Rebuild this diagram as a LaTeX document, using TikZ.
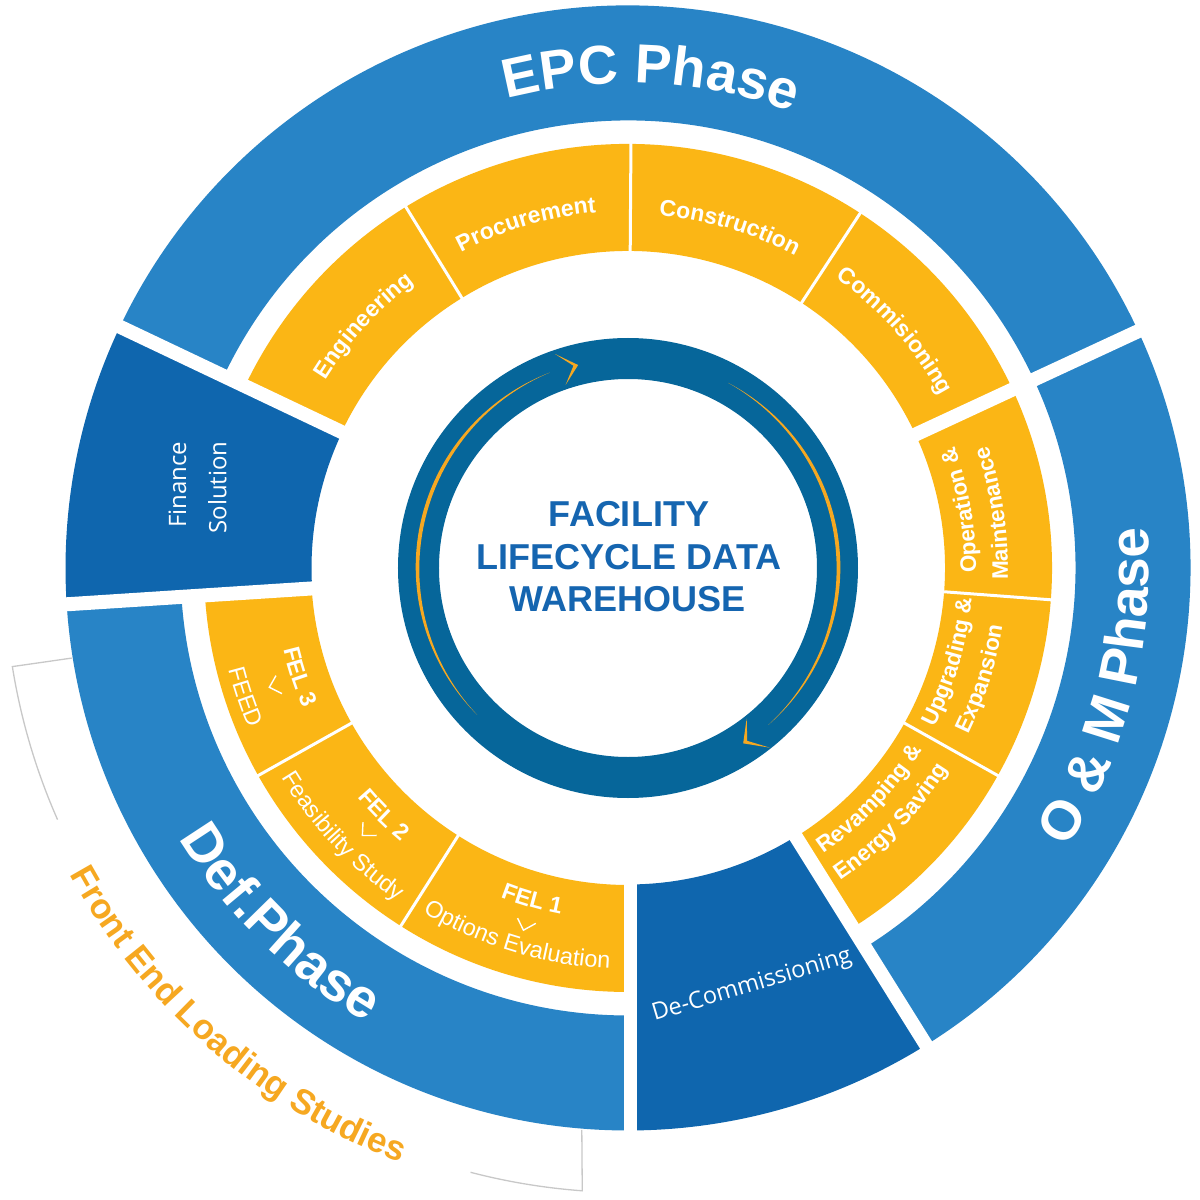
\documentclass[tikz,border=0pt]{standalone}
\usepackage{fontspec}
\setmainfont{Liberation Sans}
\newfontfamily\osans{Open Sans}
\usetikzlibrary{decorations.text}
\definecolor{lblue}{HTML}{2884C6}
\definecolor{dblue}{HTML}{0F66AE}
\definecolor{ylw}{HTML}{FBB615}
\definecolor{ringc}{HTML}{06669A}
\definecolor{ctext}{HTML}{1565B0}
\definecolor{orng}{HTML}{F6A821}
\definecolor{brk}{HTML}{C8C8C8}
\newcommand\annsec[5]{\fill[#1] (#2:#4) arc[start angle=#2,end angle=#3,radius=#4] -- (#3:#5) arc[start angle=#3,end angle=#2,radius=#5] -- cycle;}
\newcommand\cwtext[5]{\path[decorate,decoration={text along path,text={|#1|#2},text align=center}] ({#3+#5}:#4) arc[start angle={#3+#5},end angle={#3-#5},radius=#4];}
\newcommand\ccwtext[5]{\path[decorate,decoration={text along path,text={|#1|#2},text align=center}] ({#3-#5}:#4) arc[start angle={#3-#5},end angle={#3+#5},radius=#4];}
\newcommand\ftitle{\bfseries\fontsize{55}{58}\selectfont\color{white}}
\newcommand\fyel{\bfseries\fontsize{23}{26}\selectfont\color{white}}
\newcommand\fom{\bfseries\fontsize{22.5}{25}\selectfont\color{white}}
\newcommand\fnorm{\fontsize{23.5}{26}\selectfont\color{white}}
\newcommand\ffront{\bfseries\fontsize{35}{38}\selectfont\color{orng}}
\newcommand\lens[3]{\fill[orng] plot[domain=#1:#2,samples=80,variable=\t] ({(210.5+#3*sin((\t-(#1))/((#2)-(#1))*180))*cos(\t)},{(210.5+#3*sin((\t-(#1))/((#2)-(#1))*180))*sin(\t)}) -- plot[domain=#2:#1,samples=80,variable=\t] ({(210.5-#3*sin((\t-(#1))/((#2)-(#1))*180))*cos(\t)},{(210.5-#3*sin((\t-(#1))/((#2)-(#1))*180))*sin(\t)}) -- cycle;}
\newcommand\vmark[2]{\begin{scope}[shift={(#1:#2)},rotate={#1+90}]\draw[white,line width=1.4,line join=miter] (-9,10) -- (0,0) -- (10,10);\end{scope}}
\begin{document}
\begin{tikzpicture}[x=1pt,y=1pt]
\fill[white] (-628,-632) rectangle (572,568);
\useasboundingbox (-628,-632) rectangle (572,568);
% bracket
\draw[brk,line width=1.3] (189.2:563.5) -- (189.1:623.5) arc[start angle=189.1,end angle=203.8,radius=623.5];
\draw[brk,line width=1.3] (255.4:624.5) arc[start angle=255.4,end angle=265.8,radius=624.5] -- (265.3:563.8);
% outer ring
\annsec{lblue}{24.9}{154.6}{562.5}{447.5}
\annsec{lblue}{-58}{24.9}{562.5}{447.5}
\annsec{lblue}{183.7}{270.6}{562.5}{447.5}
\annsec{dblue}{154.6}{183.7}{562.5}{316.5}
\annsec{dblue}{270.6}{302}{562.5}{316.5}
% yellow ring
\annsec{ylw}{24.9}{154.6}{424}{317}
\annsec{ylw}{-58}{24.9}{424}{317}
\annsec{ylw}{183.7}{270.6}{424}{317}
% gaps
\foreach \a in {154.6,183.7,302,24.9} \draw[white,line width=14] (\a:300) -- (\a:580);
\draw[white,line width=13] (2.5,-300) -- (2.5,-580);
\foreach \a in {56.8,89.6,121.6,209.3,237.6,-29.3,-4.3} \draw[white,line width=3] (\a:312) -- (\a:429);
% inner ring
\fill[ringc,even odd rule] (0,0) circle[radius=230] (0,0) circle[radius=189];
\lens{111.8}{224.2}{1.9}
\lens{-48.2}{61.6}{1.9}
\fill[orng] (108.8:226) -- (103.8:209) -- (108.8:193.5) -- (105.1:209.5) -- cycle;
\fill[orng] (-51.7:229) -- (-56.7:209.8) -- (-51.7:191.5) -- (-55.4:210) -- cycle;
% center text
\node[anchor=base,font=\bfseries\fontsize{36}{40}\selectfont,text=ctext,inner sep=0] (ct1) at (1,42) {FACILITY};
\node[anchor=base,font=\bfseries\fontsize{36}{40}\selectfont,text=ctext,inner sep=0] (ct2) at (1,-1) {LIFECYCLE DATA};
\node[anchor=base,font=\bfseries\fontsize{36}{40}\selectfont,text=ctext,inner sep=0] (ct3) at (0,-43) {WAREHOUSE};
% titles
\cwtext{\ftitle}{EPC Phase}{87.3}{485}{35}
\ccwtext{\ftitle}{O {\&} M Phase}{-14}{521}{35}
\ccwtext{\ftitle}{Def.Phase}{225.6}{524}{35}
\ccwtext{\ffront}{Front End Loading Studies}{228.9}{637}{35}
% EPC yellow labels
\cwtext{\fyel}{Engineering}{137.5}{356}{30}
\cwtext{\fyel}{Procurement}{106.5}{357}{30}
\cwtext{\fyel}{Construction}{73.4}{354}{30}
\cwtext{\fyel}{Commisioning}{41.6}{357}{30}
% O&M yellow labels
\ccwtext{\fom}{Operation {\&}}{9.8}{348}{30}
\ccwtext{\fom}{Maintenance}{8.5}{380}{30}
\ccwtext{\fom}{Upgrading {\&}}{-16.3}{345}{30}
\ccwtext{\fom}{Expansion}{-17.4}{379}{30}
\ccwtext{\fom}{Revamping {\&}}{-43.7}{346}{30}
\ccwtext{\fom}{Energy Saving}{-44}{378}{30}
% FEL labels
\ccwtext{\fyel}{FEL 3}{198.3}{354}{30}
\ccwtext{\fnorm}{FEED}{198.6}{412}{30}
\ccwtext{\fyel}{FEL 2}{225.3}{355}{30}
\ccwtext{\fnorm}{Feasibility Study}{223.2}{405}{30}
\ccwtext{\fyel}{FEL 1}{253.9}{353}{30}
\ccwtext{\fnorm}{Options Evaluation}{253.3}{401}{30}
\vmark{198.4}{378}
\vmark{225.2}{377}
\vmark{253.9}{377}
% dark segments text
\node[rotate=90,font=\osans\fontsize{24}{28}\selectfont,text=white,inner sep=0] (fin1) at (-450.5,83.3) {Finance};
\node[rotate=90,font=\osans\fontsize{24}{28}\selectfont,text=white,inner sep=0] (fin2) at (-410.5,80.5) {Solution};
\node[rotate=16.5,font=\osans\fontsize{23.5}{28}\selectfont,text=white,inner sep=0] (dec) at (124,-418) {De-Commissioning};
\end{tikzpicture}
\end{document}
